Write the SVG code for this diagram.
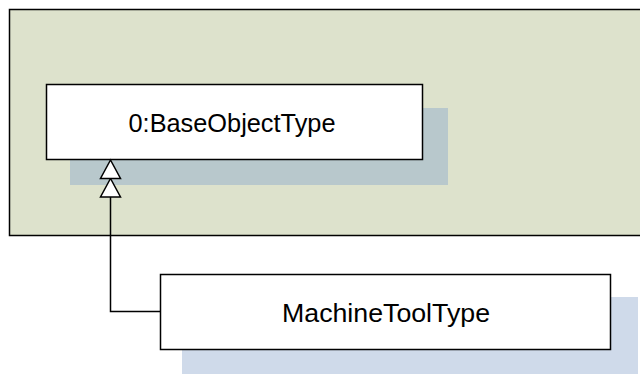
<svg xmlns="http://www.w3.org/2000/svg" width="640" height="374" viewBox="0 0 640 374">
<style>
.box{fill:#ffffff;stroke:#000;stroke-width:1.5}
.lbl{font-family:"Liberation Sans",Arial,sans-serif;font-size:25px;fill:#000;text-anchor:middle}
.con{fill:none;stroke:#000;stroke-width:1.5}
.tri{fill:#ffffff;stroke:#000;stroke-width:1.5;stroke-linejoin:miter}
</style>
<rect id="package" x="9.5" y="9.5" width="640" height="226" fill="#dde2cc" stroke="#000" stroke-width="1.5"/>
<g id="BaseObjectType">
<rect x="70" y="108" width="378" height="77" fill="#b8c8cc"/>
<rect class="box" x="46.5" y="84.5" width="376" height="75"/>
<text class="lbl" x="232" y="131.5" textLength="207" lengthAdjust="spacingAndGlyphs">0:BaseObjectType</text>
</g>
<g id="MachineToolType">
<rect x="182" y="297" width="456" height="80" fill="#cfdaea"/>
<rect class="box" x="160.5" y="274.5" width="450" height="75"/>
<text class="lbl" x="386" y="322" textLength="208" lengthAdjust="spacingAndGlyphs">MachineToolType</text>
</g>
<g id="connectors">
<polyline class="con" points="160.5,311.5 110.5,311.5 110.5,197"/>
<polygon class="tri" points="110.5,178.5 100.5,197 120.5,197"/>
<polygon class="tri" points="110.5,160 100.5,178.5 120.5,178.5"/>
</g>
</svg>
